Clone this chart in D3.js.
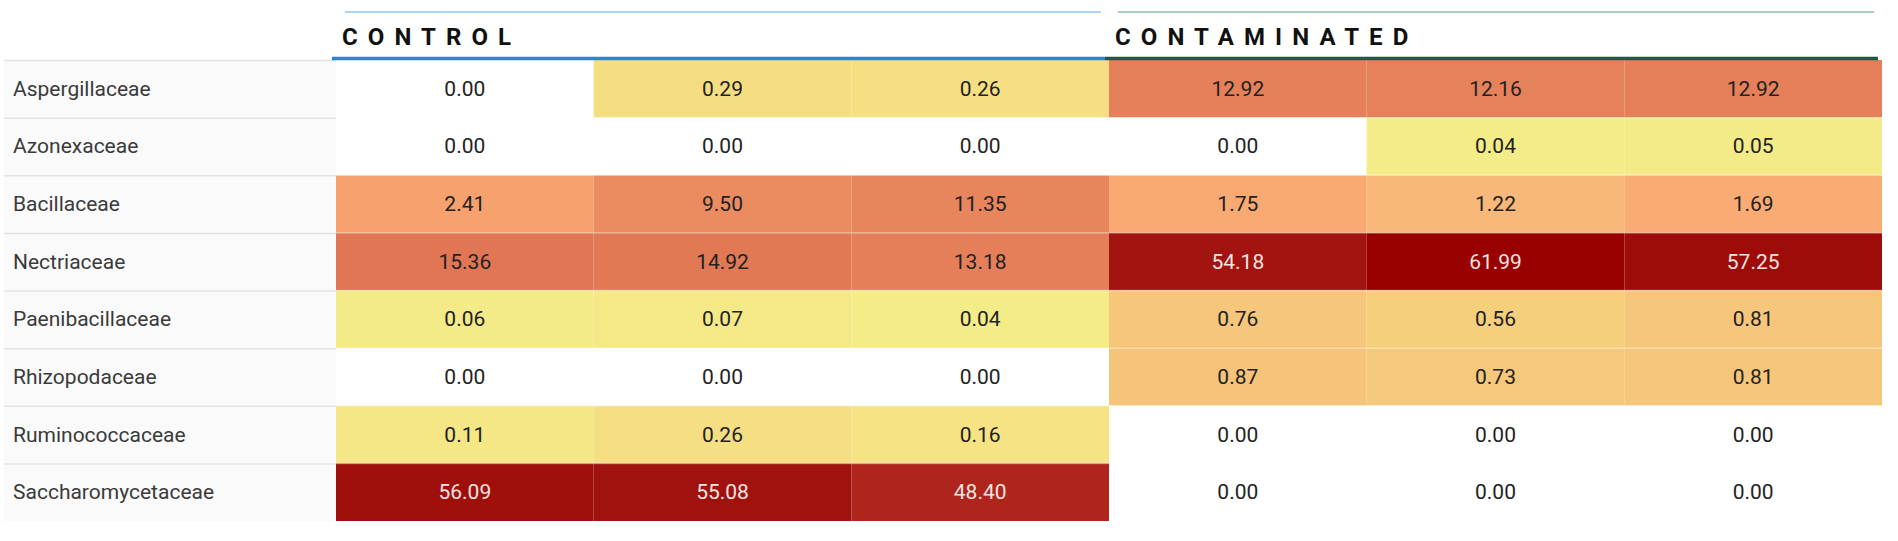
<!DOCTYPE html>
<html>
<head>
<meta charset="utf-8">
<script src="https://cdn.jsdelivr.net/npm/d3@7"></script>
<style>
  body { margin: 0; background: #fff; }
  svg { display: block; font-family: Roboto, "Noto Sans", sans-serif; }
</style>
</head>
<body>
<svg id="chart" width="1898" height="541"></svg>
<script>
// families (rows)
const families = [
  "Aspergillaceae", "Azonexaceae", "Bacillaceae", "Nectriaceae",
  "Paenibacillaceae", "Rhizopodaceae", "Ruminococcaceae", "Saccharomycetaceae"
];

// sample columns, three per group
const samples = ["control_1", "control_2", "control_3", "contam_1", "contam_2", "contam_3"];
const groups = ["CONTROL", "CONTAMINATED"];
const groupOf = ["CONTROL", "CONTROL", "CONTROL", "CONTAMINATED", "CONTAMINATED", "CONTAMINATED"];

// relative abundance (%), one array per family
const aspergillaceae     = [0.00, 0.29, 0.26, 12.92, 12.16, 12.92];
const azonexaceae        = [0.00, 0.00, 0.00, 0.00, 0.04, 0.05];
const bacillaceae        = [2.41, 9.50, 11.35, 1.75, 1.22, 1.69];
const nectriaceae        = [15.36, 14.92, 13.18, 54.18, 61.99, 57.25];
const paenibacillaceae   = [0.06, 0.07, 0.04, 0.76, 0.56, 0.81];
const rhizopodaceae      = [0.00, 0.00, 0.00, 0.87, 0.73, 0.81];
const ruminococcaceae    = [0.11, 0.26, 0.16, 0.00, 0.00, 0.00];
const saccharomycetaceae = [56.09, 55.08, 48.40, 0.00, 0.00, 0.00];

const values = [
  aspergillaceae, azonexaceae, bacillaceae, nectriaceae,
  paenibacillaceae, rhizopodaceae, ruminococcaceae, saccharomycetaceae
];

const cells = [];
families.forEach((f, i) => {
  samples.forEach((s, j) => {
    cells.push({ family: f, sample: s, value: values[i][j] });
  });
});

const svg = d3.select("#chart");

const labelLeft = 4;
const gridLeft = 336;
const gridRight = 1882;
const gridTop = 60;
const gridBottom = 521;

const x = d3.scaleBand()
  .domain(samples)
  .range([gridLeft, gridRight]);

const y = d3.scaleBand()
  .domain(families)
  .range([gridTop, gridBottom]);

// log scale on the value, zero stays white
const colorStops = d3.scaleLog()
  .domain([0.04, 0.11, 0.3, 0.8, 1.22, 2.0, 10, 14, 48, 55, 62])
  .range(["#f4ec88", "#f5e686", "#f5de81", "#f6c67b", "#f8b879", "#f9a470",
          "#e98a5f", "#e47d58", "#b0261c", "#a0120e", "#990000"])
  .interpolate(d3.interpolateRgb)
  .clamp(true);
const color = v => v <= 0 ? "#ffffff" : colorStops(v);

// row labels
const labels = svg.append("g");
labels.append("rect")
  .attr("x", labelLeft)
  .attr("y", gridTop)
  .attr("width", gridLeft - labelLeft)
  .attr("height", gridBottom - gridTop)
  .attr("fill", "#fafafa");

labels.selectAll(".sep")
  .data(families)
  .join("line")
    .attr("class", "sep")
    .attr("x1", labelLeft)
    .attr("x2", gridLeft)
    .attr("y1", d => y(d) + 0.5)
    .attr("y2", d => y(d) + 0.5)
    .attr("stroke", "#e4e4e4")
    .attr("stroke-width", 1.5);

labels.selectAll("text")
  .data(families)
  .join("text")
    .attr("x", 13)
    .attr("y", d => y(d) + y.bandwidth() / 2)
    .attr("dominant-baseline", "central")
    .attr("font-size", 21)
    .attr("fill", "#3a3a3a")
    .text(d => d);

// heat cells
const grid = svg.append("g");
grid.selectAll("rect")
  .data(cells)
  .join("rect")
    .attr("x", d => x(d.sample))
    .attr("y", d => y(d.family))
    .attr("width", x.bandwidth())
    .attr("height", y.bandwidth())
    .attr("fill", d => color(d.value));

grid.selectAll(".rowline")
  .data(families.slice(1))
  .join("line")
    .attr("class", "rowline")
    .attr("x1", gridLeft)
    .attr("x2", gridRight)
    .attr("y1", d => y(d))
    .attr("y2", d => y(d))
    .attr("stroke", "#ffffff")
    .attr("stroke-opacity", 0.35)
    .attr("stroke-width", 1.5);

grid.selectAll("text")
  .data(cells)
  .join("text")
    .attr("x", d => x(d.sample) + x.bandwidth() / 2)
    .attr("y", d => y(d.family) + y.bandwidth() / 2)
    .attr("text-anchor", "middle")
    .attr("dominant-baseline", "central")
    .attr("font-size", 21)
    .attr("fill", d => d.value > 40 ? "#f6e4e2" : "#222")
    .text(d => d.value.toFixed(2));

// group headers
const groupExtent = g => {
  const cols = samples.filter((s, j) => groupOf[j] === g);
  return [x(cols[0]), x(cols[cols.length - 1]) + x.bandwidth()];
};
const headerStyle = {
  CONTROL: { thin: "#93c9ef", thick: "#1e88e5" },
  CONTAMINATED: { thin: "#8fbcaa", thick: "#1b5b4a" }
};

const headers = svg.append("g")
  .selectAll("g")
  .data(groups)
  .join("g");

headers.append("line")
  .attr("x1", d => groupExtent(d)[0] + 9)
  .attr("x2", d => groupExtent(d)[1] - 8)
  .attr("y1", 12)
  .attr("y2", 12)
  .attr("stroke", d => headerStyle[d].thin)
  .attr("stroke-width", 1.5);

headers.append("line")
  .attr("x1", d => groupExtent(d)[0] - 4)
  .attr("x2", d => groupExtent(d)[1] - 4)
  .attr("y1", 58.5)
  .attr("y2", 58.5)
  .attr("stroke", d => headerStyle[d].thick)
  .attr("stroke-width", 3.5);

headers.append("text")
  .attr("x", d => groupExtent(d)[0] + 6)
  .attr("y", 45)
  .attr("font-size", 24)
  .attr("font-weight", "bold")
  .attr("letter-spacing", "0.42em")
  .attr("fill", "#111")
  .text(d => d);
</script>
</body>
</html>
